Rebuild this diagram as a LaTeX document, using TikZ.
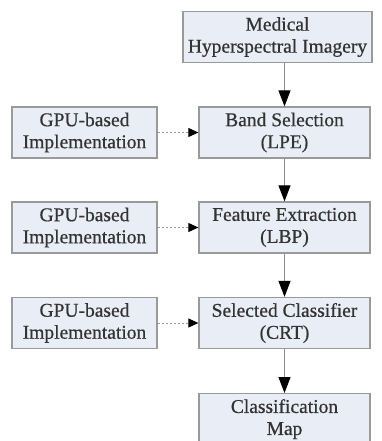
\documentclass[tikz,border=0pt]{standalone}
\usepackage{fontspec}
\setmainfont{Liberation Serif}
\newfontfamily\tnr[FakeBold=0.6]{Liberation Serif}
\usetikzlibrary{arrows.meta}
\definecolor{boxfill}{HTML}{E9EDF5}
\definecolor{boxline}{HTML}{9A9A9A}
\begin{document}
\begin{tikzpicture}[x=1pt,y=1pt,
  blk/.style={draw=boxline, line width=1.3pt, fill=boxfill, align=center,
    minimum height=51pt, inner sep=0pt,
    font=\tnr\fontsize{19.5}{22}\selectfont, text=black!80},
  flow/.style={draw=black!45, line width=0.9pt, -{Triangle[length=16pt,width=12pt,color=black]}},
  gpu/.style={draw=black!40, line width=0.9pt, dashed, dash pattern=on 2pt off 2pt, -{Triangle[length=10pt,width=9pt,color=black]}}]
\clip (0,0) rectangle (382,-441);
\fill[white] (0,0) rectangle (382,-441);
\node[blk, minimum width=189pt] (med) at (277.5,-37) {Medical\\Hyperspectral Imagery};
\node[blk, minimum width=171pt] (band) at (284.5,-132.5) {Band Selection\\(LPE)};
\node[blk, minimum width=171pt] (feat) at (284.5,-227.5) {Feature Extraction\\(LBP)};
\node[blk, minimum width=171pt] (cls) at (284.5,-323) {Selected Classifier\\(CRT)};
\node[blk, minimum width=171pt, anchor=north] (map) at (284.5,-393) {Classification\\Map};
\node[blk, minimum width=145pt] (g1) at (84.5,-132.5) {GPU-based\\Implementation};
\node[blk, minimum width=145pt] (g2) at (84.5,-227.5) {GPU-based\\Implementation};
\node[blk, minimum width=145pt] (g3) at (84.5,-323) {GPU-based\\Implementation};
\draw[flow] (med.south -| band.north) -- (band.north);
\draw[flow] (band) -- (feat);
\draw[flow] (feat) -- (cls);
\draw[flow] (cls) -- (map);
\draw[gpu] (g1) -- (band);
\draw[gpu] (g2) -- (feat);
\draw[gpu] (g3) -- (cls);
\end{tikzpicture}
\end{document}
